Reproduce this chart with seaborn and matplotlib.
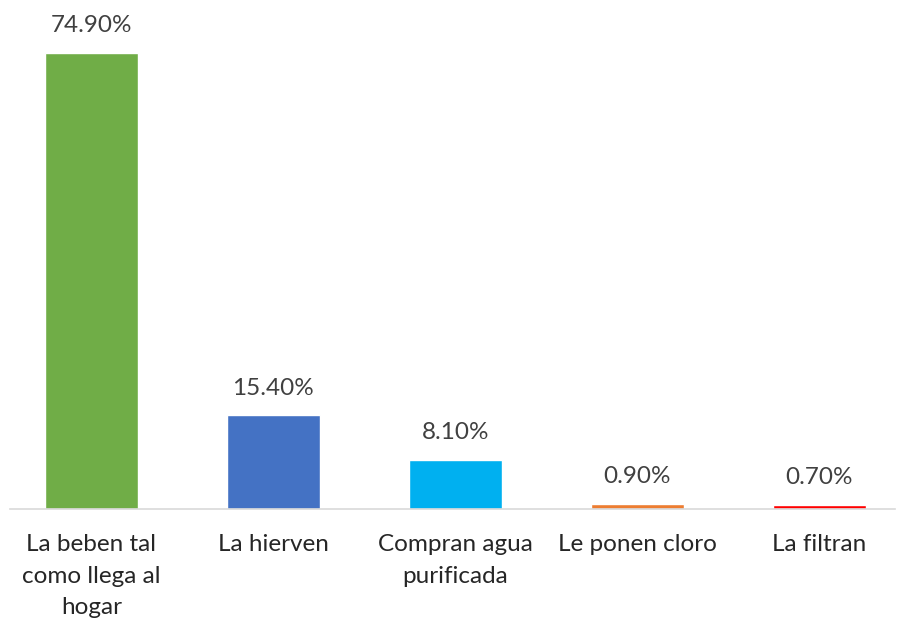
import matplotlib
matplotlib.use("Agg")
import matplotlib.pyplot as plt
import seaborn as sns
import pandas as pd

# Data
categories = [
    "La beben tal\ncomo llega al\nhogar",
    "La hierven",
    "Compran agua\npurificada",
    "Le ponen cloro",
    "La filtran",
]
values = [74.9, 15.4, 8.1, 0.9, 0.7]
colors = ["#70AD47", "#4472C4", "#00B0F0", "#ED7D31", "#FF0000"]

sns.set_style("white")
plt.rcParams["font.family"] = ["Lato", "DejaVu Sans"]

df = pd.DataFrame({"cat": categories, "val": values})

fig = plt.figure(figsize=(8.98, 6.22), dpi=100)
ax = fig.add_axes([10 / 898, 113 / 622, 885 / 898, 509 / 622])

sns.barplot(data=df, x="cat", y="val", hue="cat", palette=colors,
            width=0.511, saturation=1, legend=False, ax=ax)

ax.set_xlim(-0.448, 4.417)
ax.set_ylim(0, 83.6)

# value labels above each bar
for i, v in enumerate(values):
    ax.annotate(f"{v:.2f}%", (i, v), xytext=(0, 12), textcoords="offset points",
                ha="center", va="bottom", fontsize=17.5, color="#404040")

ax.set_xlabel("")
ax.set_ylabel("")
ax.set_yticks([])
for s in ["top", "right", "left"]:
    ax.spines[s].set_visible(False)
ax.spines["bottom"].set_color("#d9d9d9")
ax.spines["bottom"].set_linewidth(1.2)
ax.tick_params(axis="x", length=0, pad=18, labelsize=17.5)
for lbl in ax.get_xticklabels():
    lbl.set_linespacing(1.62)
    lbl.set_color("#262626")

fig.savefig("out.png", dpi=100)
